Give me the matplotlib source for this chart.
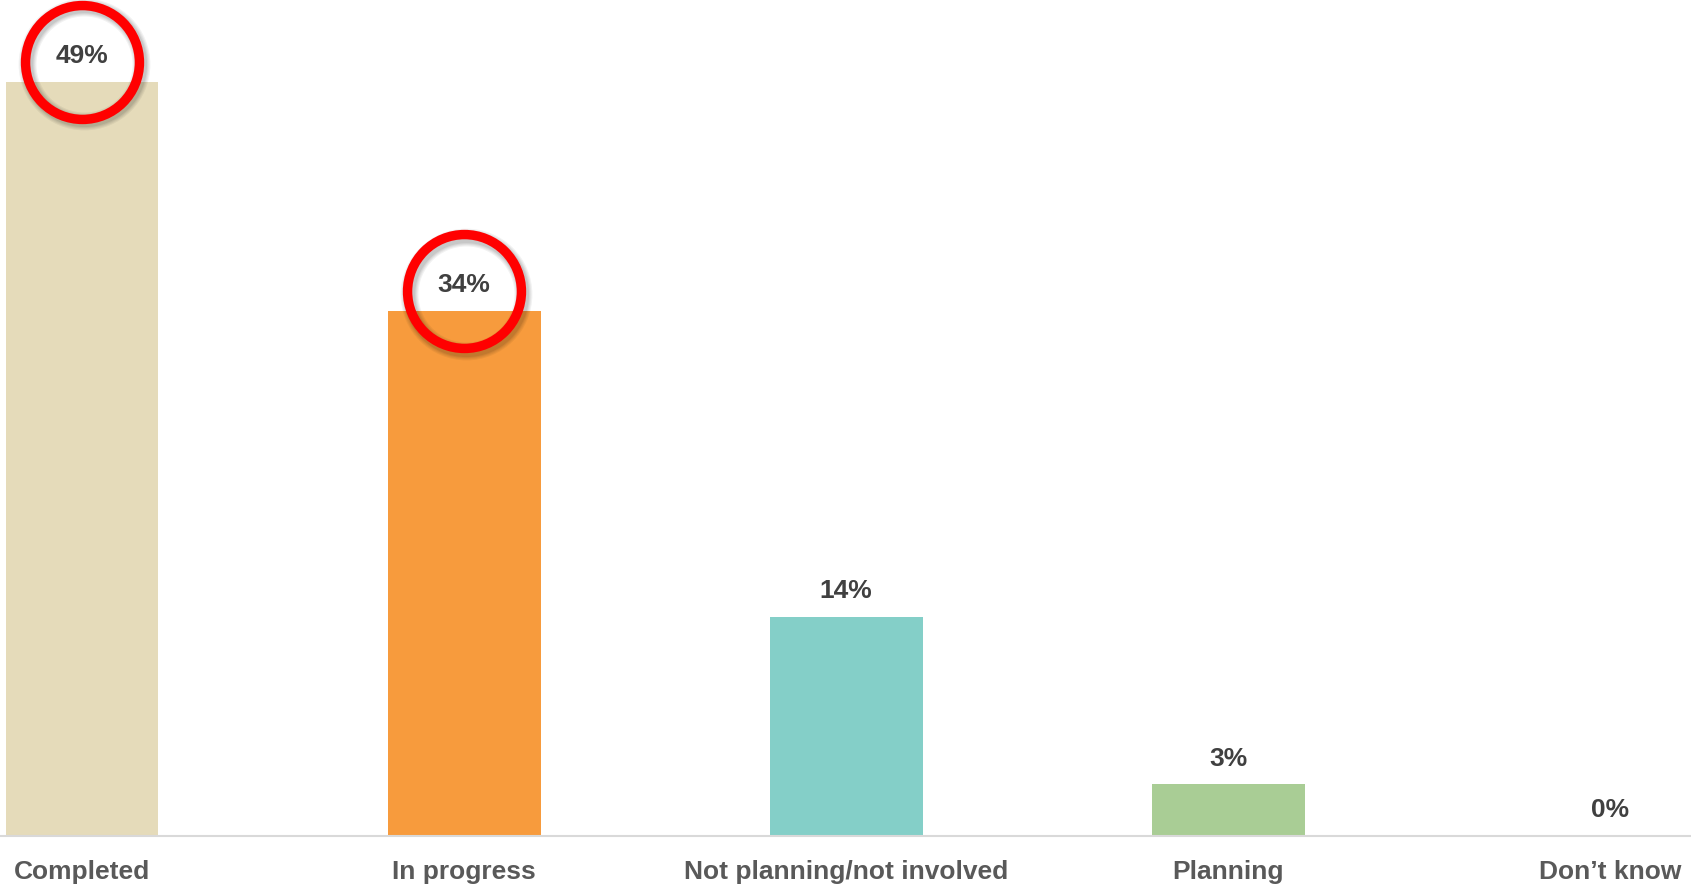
import matplotlib
matplotlib.use('Agg')
import matplotlib.pyplot as plt
import numpy as np

plt.rcParams.update({
    'font.family': ['Liberation Sans', 'DejaVu Sans'],
    'font.weight': 'bold',
})

categories = ['Completed', 'In progress', 'Not planning/not involved', 'Planning', 'Don\u2019t know']
values = [49, 34.1, 14.2, 3.35, 0]
value_labels = ['49%', '34%', '14%', '3%', '0%']
bar_colors = ['#E5DBBA', '#F79B3D', '#84CFC8', '#A9CD95', '#BDBDBD']
highlighted = [0, 1]

DPI = 100
fig = plt.figure(figsize=(16.91, 8.86), dpi=DPI)
ax = fig.add_axes([0, 50 / 886, 1, 836 / 886])

x = np.arange(len(categories))
ax.bar(x, values, width=0.4, color=bar_colors, zorder=2)

ax.set_xlim(-0.2146, 4.211)
ax.set_ylim(0, 54.3)

for xi, v, lab in zip(x, values, value_labels):
    ax.annotate(lab, (xi, v), xytext=(0, 10), textcoords='offset points',
                ha='center', va='bottom', fontsize=19, fontweight='bold',
                color='#404040', zorder=5)

# red rings around the top two results, with a soft shadow
for i in highlighted:
    cy = values[i] + 1.3
    for k, a in enumerate([0.05, 0.05, 0.06, 0.07]):
        ax.plot(x[i] + 0.004, cy - 0.18, marker='o', markersize=82,
                mfc='none', mec='black', mew=6.5 + (4 - k) * 1.6,
                alpha=a, zorder=3, clip_on=False)
    ax.plot(x[i], cy, marker='o', markersize=82, mfc='none', mec='#FF0000',
            mew=6.8, zorder=4, clip_on=False)

ax.set_xticks(x)
ax.set_xticklabels(categories, fontsize=19, fontweight='bold', color='#595959')
ax.tick_params(axis='x', length=0, pad=17)
ax.set_yticks([])
for side in ['top', 'right', 'left']:
    ax.spines[side].set_visible(False)
ax.spines['bottom'].set_color('#D9D9D9')
ax.spines['bottom'].set_linewidth(1.5)

fig.savefig('out.png', dpi=DPI)
